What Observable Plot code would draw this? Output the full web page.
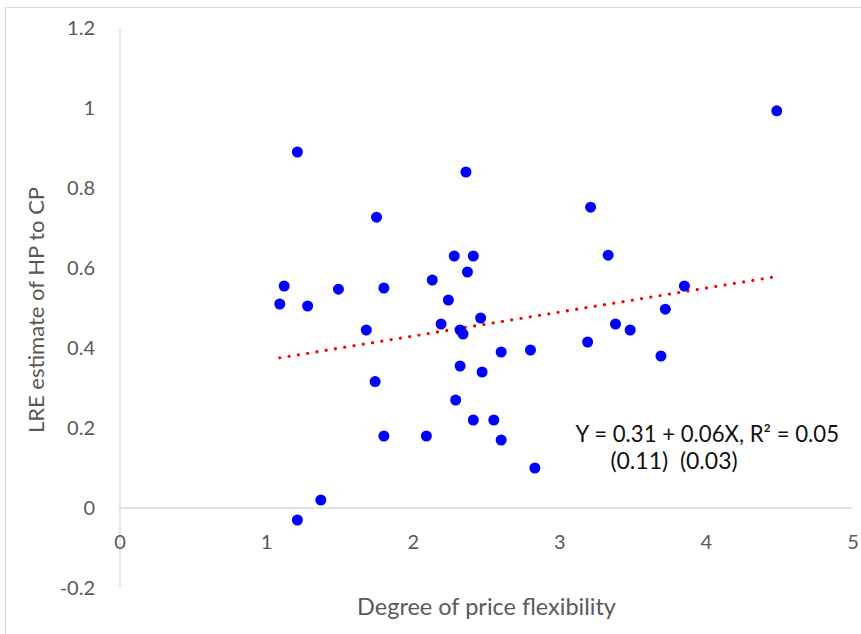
<!DOCTYPE html>
<html>
<head>
<meta charset="utf-8">
<script src="https://cdn.jsdelivr.net/npm/d3@7"></script>
<script src="https://cdn.jsdelivr.net/npm/@observablehq/plot@0.6"></script>
<style>
  body { margin: 0; background: #fff; }
  #wrap { position: relative; width: 861px; height: 634px; overflow: hidden; }
  #border { position: absolute; left: 5px; top: 7px; width: 2000px; height: 2000px;
            border-left: 1.5px solid #d9d9d9; border-top: 1.5px solid #d9d9d9; }
  #chart { position: absolute; left: 0; top: 0; }
</style>
</head>
<body>
<div id="wrap"><div id="border"></div><div id="chart"></div></div>
<script>
// Degree of price flexibility (x) and LRE estimate of HP to CP (y)
const flexibility = [1.09, 1.12, 1.21, 1.28, 1.21, 1.37, 1.49, 1.68, 1.75, 1.74, 1.80, 1.80,
  2.13, 2.19, 2.09, 2.24, 2.28, 2.32, 2.34, 2.32, 2.29, 2.36, 2.37, 2.41, 2.41, 2.46, 2.47,
  2.55, 2.60, 2.60, 2.80, 2.83, 3.19, 3.21, 3.33, 3.38, 3.48, 3.69, 3.72, 3.85, 4.48];
const lreEstimate = [0.51, 0.555, 0.89, 0.505, -0.03, 0.02, 0.547, 0.445, 0.727, 0.316, 0.55, 0.18,
  0.57, 0.46, 0.18, 0.52, 0.63, 0.445, 0.435, 0.355, 0.27, 0.84, 0.59, 0.63, 0.22, 0.475, 0.34,
  0.22, 0.39, 0.17, 0.395, 0.10, 0.415, 0.752, 0.632, 0.46, 0.445, 0.38, 0.497, 0.555, 0.993];
const intercept = 0.31;
const slope = 0.06;
const xTicks = [0, 1, 2, 3, 4, 5];
const yTicks = [-0.2, 0, 0.2, 0.4, 0.6, 0.8, 1, 1.2];
const xLabel = "Degree of price flexibility";
const yLabel = "LRE estimate of HP to CP";
const eqLine1 = "Y = 0.31 + 0.06X, R\u00B2 = 0.05";
const eqLine2 = "(0.11)  (0.03)";

const points = flexibility.map((x, i) => ({x, y: lreEstimate[i]}));
const xMin = d3.min(flexibility), xMax = d3.max(flexibility);
const trend = [xMin, xMax].map(x => ({x, y: intercept + slope * x}));

const font = "Lato, 'Open Sans', sans-serif";
const gray = "#595959";

const chart = Plot.plot({
  width: 861,
  height: 634,
  marginLeft: 119.5,
  marginRight: 8.5,
  marginTop: 27.5,
  marginBottom: 46.5,
  style: { fontFamily: font, background: "transparent" },
  x: { domain: [0, 5], axis: null },
  y: { domain: [-0.2, 1.2], axis: null },
  marks: [
    Plot.ruleX([0], { stroke: "#d9d9d9", strokeWidth: 1.3, y1: -0.2, y2: 1.2 }),
    Plot.ruleY([0], { stroke: "#d9d9d9", strokeWidth: 1.3, x1: 0, x2: 5 }),
    Plot.text(yTicks, { x: 0, y: d => d, text: d => String(d), textAnchor: "end", dx: -25, dy: 1,
      fill: gray, fontSize: 20 }),
    Plot.text(xTicks, { x: d => d, y: 0, text: d => String(d), dy: 34.5, fill: gray, fontSize: 20 }),
    Plot.text([yLabel], { frameAnchor: "left", rotate: -90, textAnchor: "middle", lineAnchor: "middle",
      dx: -83, dy: 2, fill: gray, fontSize: 22 }),
    Plot.text([xLabel], { frameAnchor: "bottom", lineAnchor: "middle", dy: 19.5, fill: gray, fontSize: 23.5 }),
    Plot.line(trend, { x: "x", y: "y", stroke: "#ff0000", strokeWidth: 3.3,
      strokeDasharray: "0 9.4", strokeLinecap: "round" }),
    Plot.dot(points, { x: "x", y: "y", r: 5.5, fill: "#0000ff", stroke: "none" }),
    Plot.text([eqLine1], { x: 3.107, y: 0.184, textAnchor: "start", lineAnchor: "middle",
      fill: "#111", fontSize: 22.2 }),
    Plot.text([eqLine2], { x: 3.779, y: 0.117, textAnchor: "middle", lineAnchor: "middle",
      fill: "#111", fontSize: 23 })
  ]
});
document.getElementById("chart").appendChild(chart);
</script>
</body>
</html>
